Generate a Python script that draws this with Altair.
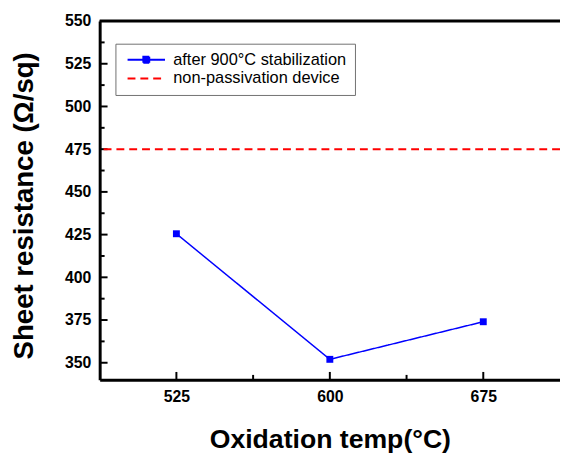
import altair as alt
import pandas as pd

# ---- data ----
temps = [525, 600, 675]
resistance = [425.5, 352, 374]
series_names = ["after 900°C stabilization", "non-passivation device"]
ref_value = [475]

y_major = [350, 375, 400, 425, 450, 475, 500, 525, 550]
y_minor = [362.5, 387.5, 412.5, 437.5, 462.5, 487.5, 512.5, 537.5]
x_major = [525, 600, 675]
x_minor = [562.5, 637.5]

FONT = "Liberation Sans"
BLUE = "#0000ff"
RED = "#ff0000"

df_line = pd.DataFrame({"temp": temps, "res": resistance, "series": [series_names[0]] * 3})
df_ref = pd.DataFrame({"res": ref_value, "series": [series_names[1]]})

xscale = alt.Scale(domain=[487.5, 712.5], nice=False, zero=False)
yscale = alt.Scale(domain=[340, 550], nice=False, zero=False)

color_scale = alt.Scale(domain=series_names, range=[BLUE, RED])
dash_scale = alt.Scale(domain=series_names, range=[[1, 0], [8, 5]])
shape_scale = alt.Scale(domain=series_names,
                        range=["M-1,0H8.5M3,-0.75H4.5V0.75H3Z", "M-1,0H8.5"])

leg = alt.Legend(title=None, orient="none", legendX=16, legendY=23)

xaxis = alt.Axis(values=x_major, format="d", grid=False, ticks=False, tickSize=0,
                 labelFont=FONT, labelFontSize=16, labelFontWeight="bold", labelColor="black",
                 labelPadding=9, domainColor="black", domainWidth=3,
                 title="Oxidation temp(°C)", titleFont=FONT, titleFontSize=27,
                 titleFontWeight="bold", titleColor="black", titlePadding=23)
yaxis = alt.Axis(values=y_major, format="d", grid=False, ticks=False, tickSize=0,
                 labelFont=FONT, labelFontSize=16, labelFontWeight="bold", labelColor="black",
                 labelPadding=9, domainColor="black", domainWidth=3,
                 title="Sheet resistance (Ω/sq)", titleFont=FONT, titleFontSize=28,
                 titleFontWeight="bold", titleColor="black", titlePadding=26, titleY=187)

line = alt.Chart(df_line).mark_line(strokeWidth=1.5).encode(
    x=alt.X("temp:Q", scale=xscale, axis=xaxis),
    y=alt.Y("res:Q", scale=yscale, axis=yaxis),
    color=alt.Color("series:N", scale=color_scale, legend=leg),
    strokeDash=alt.StrokeDash("series:N", scale=dash_scale, legend=leg),
)

points = alt.Chart(df_line).mark_square(size=49, color=BLUE, opacity=1).encode(
    x=alt.X("temp:Q", scale=xscale),
    y=alt.Y("res:Q", scale=yscale),
)

ref = alt.Chart(df_ref).mark_rule(strokeWidth=2).encode(
    y=alt.Y("res:Q", scale=yscale),
    color=alt.Color("series:N", scale=color_scale, legend=leg),
    strokeDash=alt.StrokeDash("series:N", scale=dash_scale, legend=leg),
)

top_frame = alt.Chart(pd.DataFrame({"v": [y_major[-1]]})).mark_rule(color="black", strokeWidth=3).encode(
    y=alt.Y("v:Q", scale=yscale))

legend_shape = alt.Chart(alt.Data(values=[])).mark_point(filled=True, fill=BLUE, opacity=1).encode(
    shape=alt.Shape("series:N", scale=shape_scale, legend=leg),
)

def yticks(vals, length):
    return alt.Chart(pd.DataFrame({"v": vals})).mark_rule(color="black", strokeWidth=2).encode(
        y=alt.Y("v:Q", scale=yscale), x=alt.value(0), x2=alt.value(length))

def xticks(vals, length):
    return alt.Chart(pd.DataFrame({"v": vals})).mark_rule(color="black", strokeWidth=2).encode(
        x=alt.X("v:Q", scale=xscale), y=alt.value(364), y2=alt.value(364 - length))

chart = alt.layer(
    yticks(y_major, 8), yticks(y_minor, 5), xticks(x_major, 8), xticks(x_minor, 5),
    top_frame, ref, line, points, legend_shape,
).properties(
    width=467, height=364,
    background="white",
    autosize=alt.AutoSizeParams(type="none"),
    padding={"left": 93, "top": 10, "right": 0, "bottom": 71},
).configure_view(
    stroke=None
).configure_legend(
    symbolSize=64, symbolStrokeWidth=2, symbolFillColor=BLUE,
    labelFont=FONT, labelFontSize=16.6, labelColor="black", labelOffset=34, labelLimit=0,
    padding=8, rowPadding=2, strokeColor="#707070", fillColor="white",
)

chart.save("out.html", embed_options={"renderer": "svg", "actions": False})
